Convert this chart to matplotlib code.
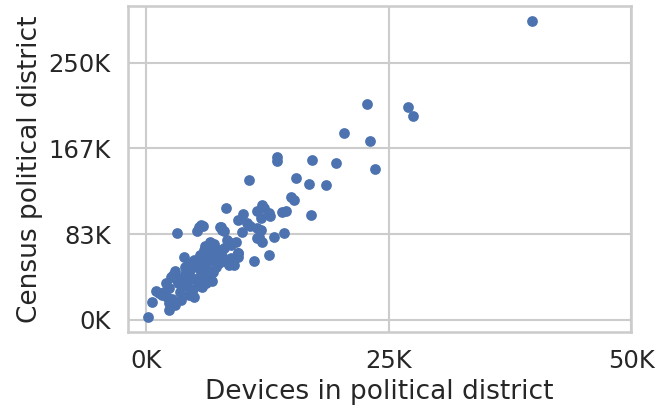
import matplotlib
matplotlib.use("Agg")
import matplotlib.pyplot as plt
import seaborn as sns
from matplotlib.ticker import FuncFormatter

# values, in thousands
devices_k = [
    39.8, 27.0, 27.5, 22.8, 20.4, 23.1, 13.5, 13.5, 17.1, 19.6, 23.6, 10.6,
    15.4, 16.8, 18.5, 14.9, 15.2, 8.2, 11.9, 12.1, 11.4, 12.6, 12.8, 14.0,
    14.4, 17.0, 10.0, 9.4, 10.4, 10.7, 11.4, 11.8, 9.9, 14.2, 5.85, 7.7,
    8.0, 13.2, 11.6, 11.4, 11.9, 9.2, 8.7, 9.4, 9.5, 8.7, 12.6, 11.1,
    9.0, 3.2, 5.4, 5.6, 5.2, 7.6, 7.8, 11.8,
    0.2, 0.6, 1.3, 1.8, 2.3, 2.1, 2.3, 2.3, 3.0, 2.0, 2.5, 2.7,
    3.5, 3.85, 3.3, 4.4, 4.9, 5.4, 5.7, 6.8, 6.3, 8.3, 6.8, 3.85,
    4.4, 4.9, 5.2, 5.9, 6.3, 6.9, 5.6, 4.5, 6.6, 6.9, 6.8, 6.3,
    5.9, 8.7, 8.3, 9.5, 8.7, 8.5, 2.8, 4.6, 5.0, 4.0, 3.5, 4.2,
    5.5, 6.0, 7.2, 7.5, 6.5, 7.8, 7.0, 5.5, 6.0, 7.5, 8.0, 7.0,
    5.8, 4.0, 3.0, 3.2, 4.8, 4.2, 6.2, 3.6, 2.6, 1.6, 1.0,
]
census_k = [
    290.4, 206.7, 198.6, 210.3, 181.8, 173.9, 158.0, 154.1, 155.5, 152.5, 146.5, 135.6,
    137.9, 132.1, 131.1, 119.4, 116.8, 109.3, 112.0, 108.7, 105.5, 103.9, 101.2, 104.8,
    105.5, 101.9, 103.2, 97.4, 94.1, 91.5, 89.3, 99.0, 85.4, 84.4, 91.5, 90.8,
    86.0, 80.5, 81.1, 79.5, 76.2, 76.2, 73.0, 64.9, 61.0, 60.0, 63.3, 57.7,
    53.5, 84.4, 90.8, 92.5, 86.0, 90.8, 87.6, 87.6,
    3.2, 17.8, 26.0, 27.5, 30.9, 22.7, 16.2, 9.7, 14.6, 35.7, 42.2, 43.8,
    27.6, 34.1, 35.7, 24.3, 22.7, 34.1, 32.4, 38.3, 42.9, 56.8, 47.0, 61.6,
    55.1, 58.4, 51.9, 53.5, 48.7, 47.0, 45.4, 48.7, 76.2, 69.8, 64.9, 61.6,
    68.1, 74.6, 77.9, 64.9, 58.4, 53.5, 43.8, 41.0, 39.5, 45.0, 40.0, 38.0,
    40.5, 44.0, 51.5, 55.0, 57.0, 62.0, 60.0, 63.0, 72.0, 68.0, 70.0, 74.0,
    58.0, 51.0, 48.0, 39.0, 30.5, 33.0, 36.0, 19.0, 20.0, 24.5, 28.5,
]
devices = [v * 1000 for v in devices_k]
census = [v * 1000 for v in census_k]

x_ticks = [0, 25000, 50000]
y_ticks = [0, 250000 / 3, 500000 / 3, 250000]

sns.set_theme(style="whitegrid", context="talk")

fig, ax = plt.subplots(figsize=(6.58, 4.09), dpi=100)
plt.subplots_adjust(left=0.1945, right=0.959, bottom=0.188, top=0.985)

ax.scatter(devices, census, s=60, color="#4c72b0", linewidths=0)

ax.set_xlim(-1900, 50000)
ax.set_ylim(-11800, 305000)
ax.set_xticks(x_ticks)
ax.set_yticks(y_ticks)
fmt = FuncFormatter(lambda v, p: f"{v / 1000:.0f}K")
ax.xaxis.set_major_formatter(fmt)
ax.yaxis.set_major_formatter(fmt)
ax.tick_params(labelsize=17.5)

ax.set_xlabel("Devices in political district", fontsize=19)
ax.set_ylabel("Census political district", fontsize=19)

plt.savefig("out.png", dpi=100)
